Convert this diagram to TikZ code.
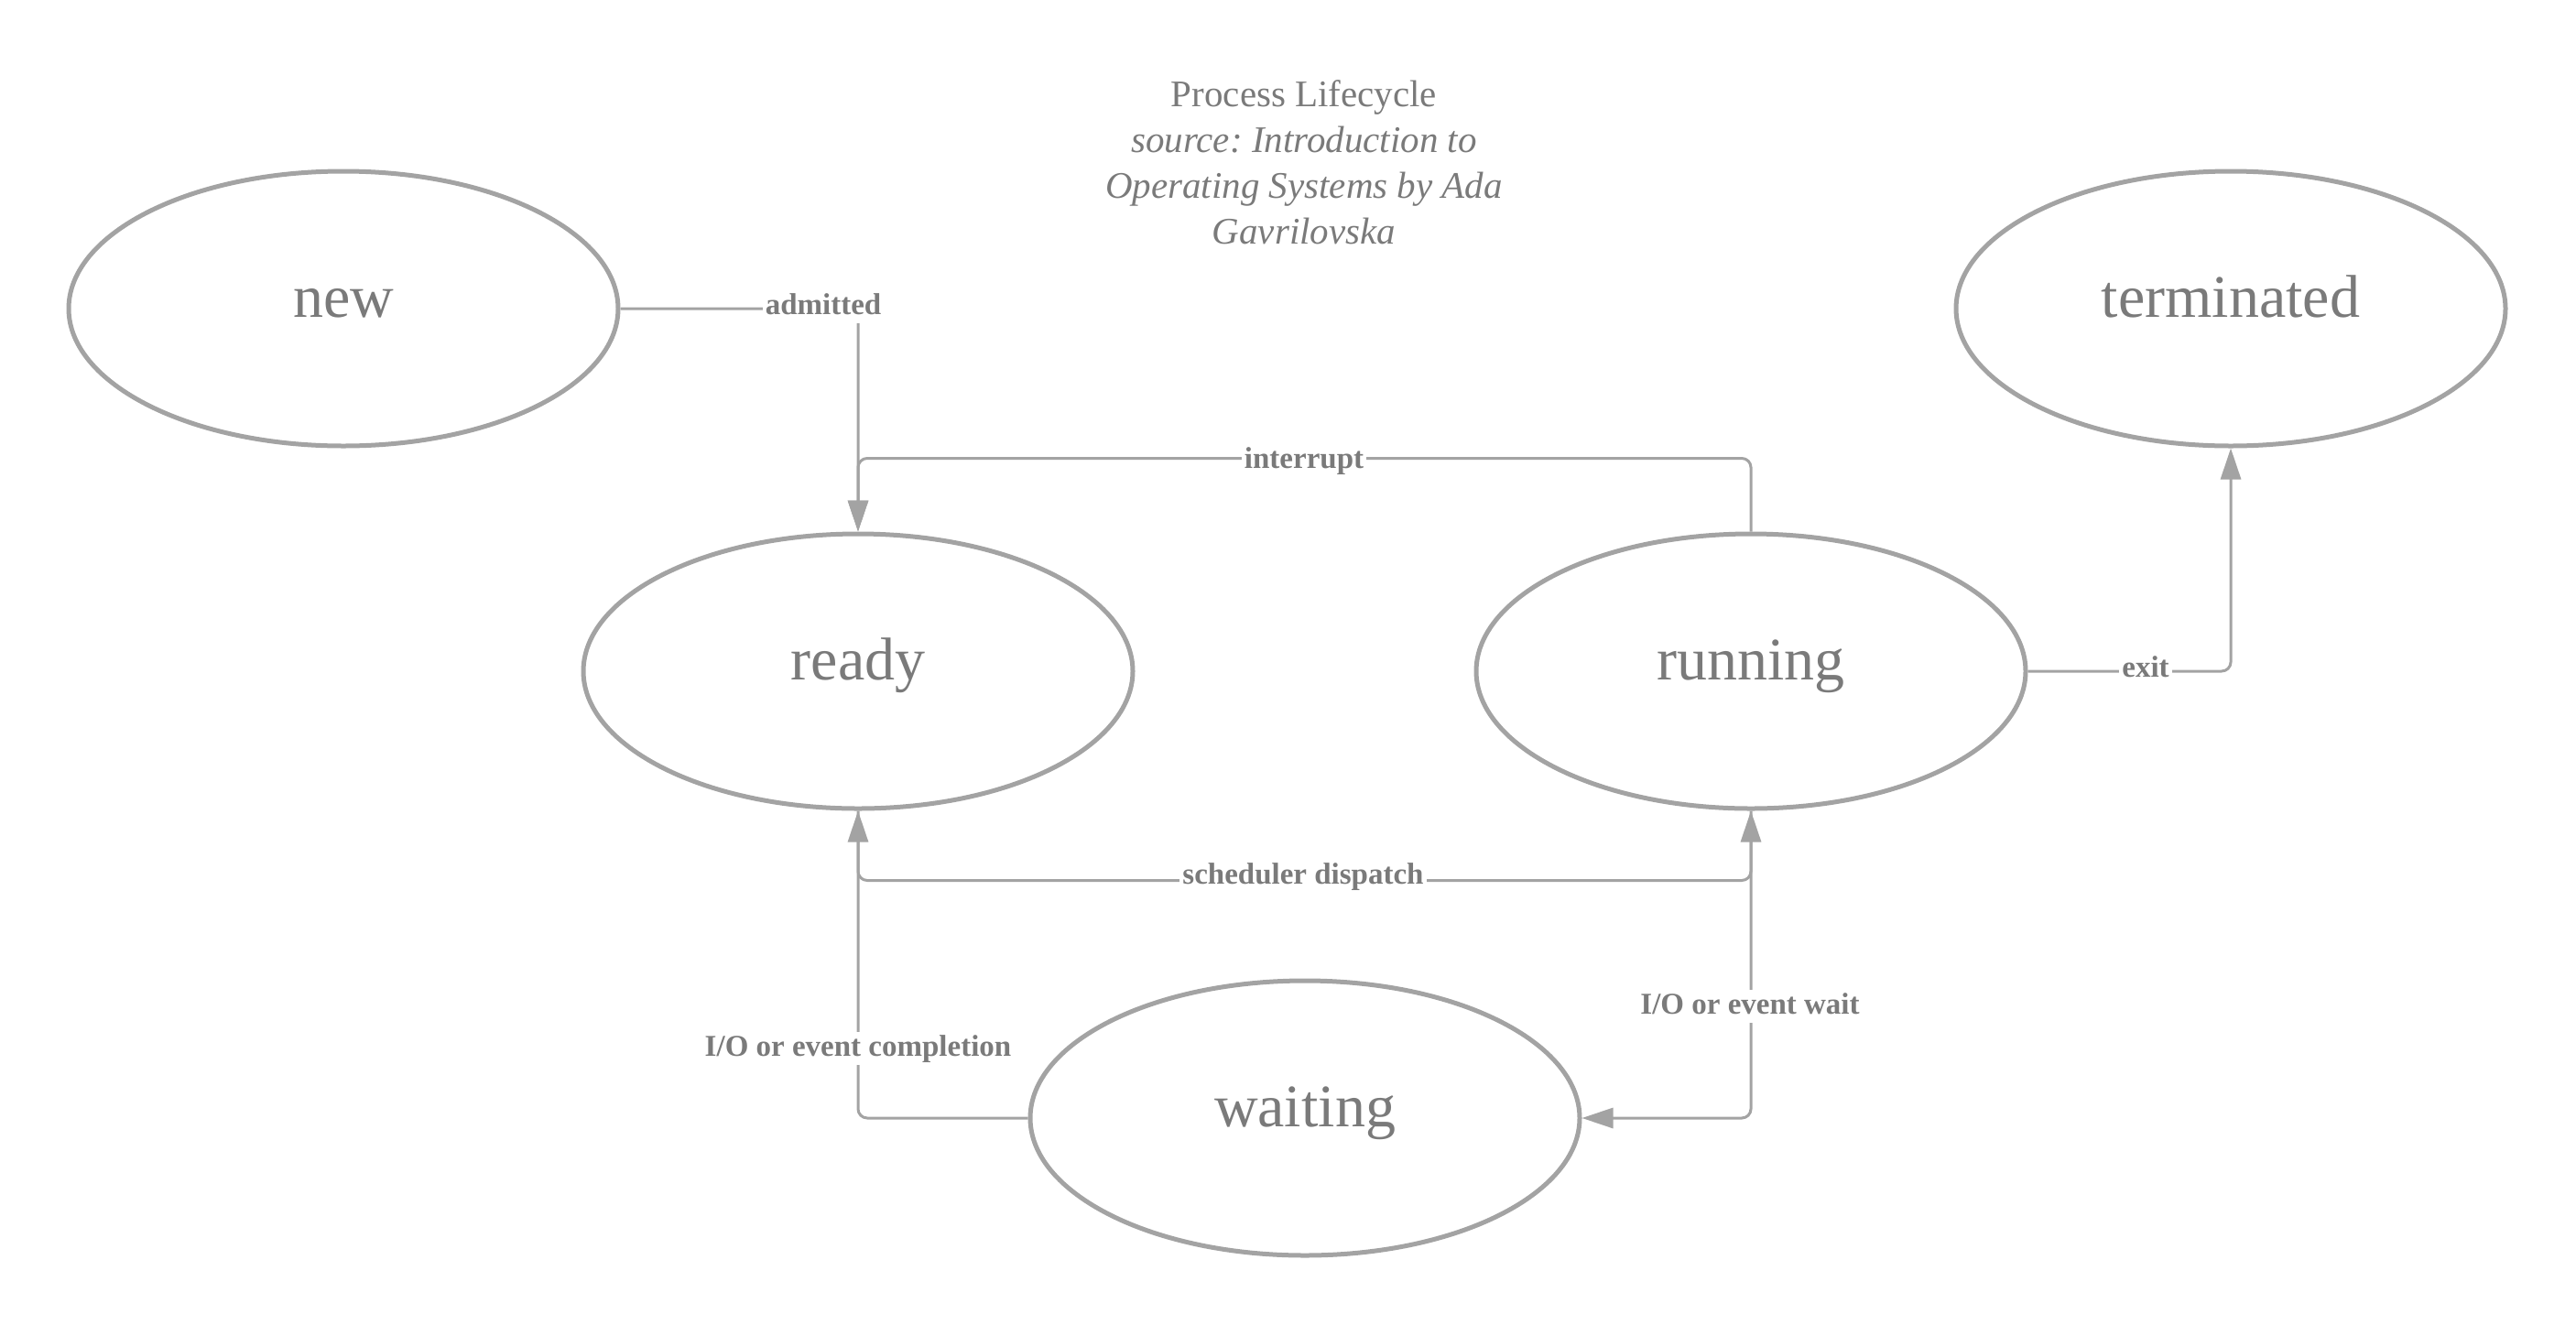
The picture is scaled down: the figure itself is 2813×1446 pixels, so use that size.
\documentclass[tikz,border=0pt]{standalone}
\usepackage{fontspec}
\setmainfont{Liberation Serif}
\usetikzlibrary{shapes.geometric,arrows.meta}
\definecolor{edgegray}{RGB}{163,163,163}
\definecolor{textgray}{RGB}{122,122,122}
\frenchspacing
\begin{document}
\begin{tikzpicture}[x=1pt,y=-1pt,
  state/.style={ellipse, draw=edgegray, line width=5pt, minimum width=600pt, minimum height=300pt, inner sep=0pt, text=textgray, font=\fontsize{66}{79}\selectfont, text height=36pt, text depth=18pt},
  conn/.style={draw=edgegray, line width=3pt, rounded corners=10pt, -{Triangle[length=34pt,width=22pt]}},
  lbl/.style={fill=white, text=textgray, font=\fontsize{33}{40}\selectfont\bfseries, inner sep=3pt, text height=23pt, text depth=7pt}]
\useasboundingbox (0,0) rectangle (2813,1446);
\node[state] (new) at (375,337) {new};
\node[state] (terminated) at (2436,337) {terminated};
\node[state] (ready) at (937,733) {ready};
\node[state] (running) at (1912,733) {running};
\node[state] (waiting) at (1425,1221) {waiting};

\draw[conn] (new.east) -| (ready.north);
\draw[conn] (running.north) -- ++(0,-80) -| (ready.north);
\draw[conn] (running.east) -| (terminated.south);
\draw[conn] (ready.south) -- ++(0,76) -| (running.south);
\draw[conn] (waiting.west) -| (ready.south);
\draw[conn] (running.south) |- (waiting.east);

\node[lbl] (lAdm) at (899,335) {admitted};
\node[lbl] (lInt) at (1424,503) {interrupt};
\node[lbl] (lExit) at (2343,731) {exit};
\node[lbl] (lSch) at (1423,957) {scheduler dispatch};
\node[lbl] (lComp) at (937,1145) {I/O or event completion};
\node[lbl] (lWait) at (1911,1099) {I/O or event wait};

\node[text=textgray, align=center, font=\fontsize{41}{50}\selectfont, inner sep=0pt] (title) at (1424,177)
  {Process Lifecycle\\\textit{source: Introduction to}\\\textit{Operating Systems by Ada}\\\textit{Gavrilovska}};
\end{tikzpicture}
\end{document}
